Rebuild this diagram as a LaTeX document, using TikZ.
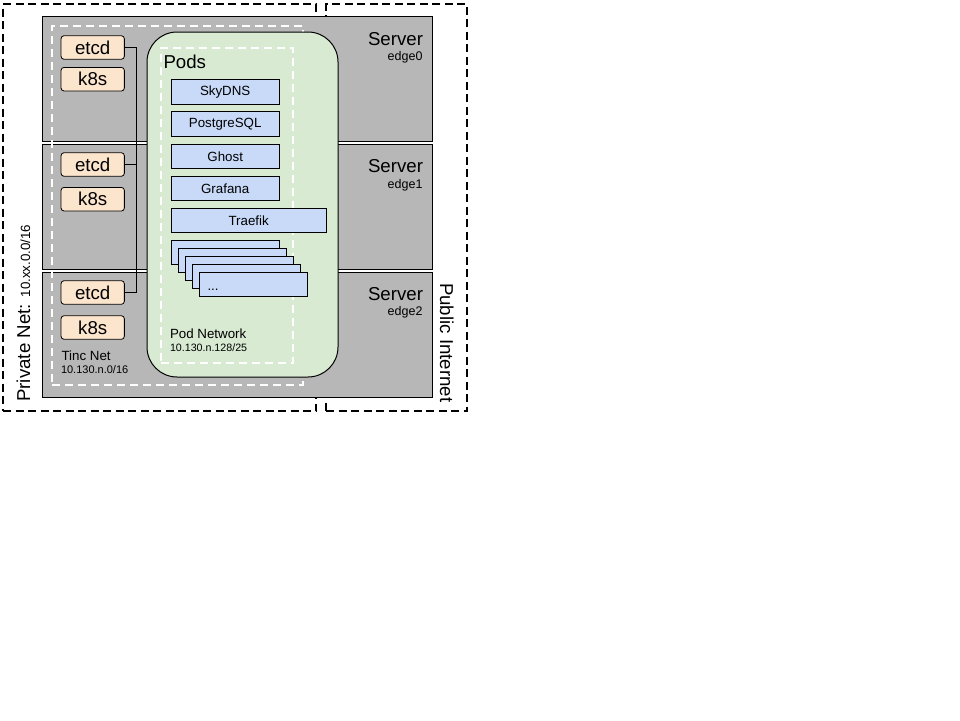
\documentclass[tikz,border=0pt]{standalone}
\usepackage{fontspec}
\setmainfont{Liberation Sans}
\definecolor{srvgray}{HTML}{B7B7B7}
\definecolor{podgreen}{HTML}{D9EAD3}
\definecolor{svcblue}{HTML}{C9DAF8}
\definecolor{peach}{HTML}{FCE5CD}
\newcommand{\fsbig}{\fontsize{18.67}{22}\selectfont}
\newcommand{\fsmid}{\fontsize{13.33}{16}\selectfont}
\newcommand{\fssmall}{\fontsize{11}{13}\selectfont}
\newcommand{\fstiny}{\fontsize{10.67}{12}\selectfont}
\begin{document}
\begin{tikzpicture}[x=1pt,y=-1pt,
  box/.style={rectangle,inner sep=0pt,outer sep=0pt,anchor=north west},
  netbox/.style={box,draw=black,line width=1.4pt,dash pattern=on 8pt off 4.5pt},
  server/.style={box,draw=black,fill=srvgray,line width=1pt,minimum width=390pt,minimum height=125pt},
  whitedash/.style={box,draw=white,line width=1.6pt,dash pattern=on 8pt off 5pt},
  podsbox/.style={box,draw=black,fill=podgreen,line width=1pt,rounded corners=30pt,minimum width=191pt,minimum height=345pt},
  compbox/.style={rectangle,draw=black,fill=peach,line width=0.8pt,rounded corners=3pt,minimum width=63.3pt,minimum height=23.6pt,inner sep=0pt,font=\fsbig},
  svc/.style={rectangle,draw=black,fill=svcblue,line width=1pt,minimum height=24.5pt,inner sep=0pt,font=\fsmid},
  stk/.style={box,draw=black,fill=svcblue,line width=1pt,minimum width=108pt,minimum height=24.3pt},
  lbl/.style={inner sep=0pt,outer sep=0pt}
]
\useasboundingbox (0,0) rectangle (960,720);
% network boundaries
\node[netbox,minimum width=313pt,minimum height=407pt] (priv) at (3,4) {};
\node[netbox,minimum width=141pt,minimum height=407pt] (pub) at (326,4) {};
% servers
\node[server] (s0) at (42,16) {};
\node[server] (s1) at (42,144) {};
\node[server] (s2) at (42,272) {};
% server labels
\node[lbl,anchor=base east,font=\fsbig] (sv0) at (423,45) {Server};
\node[lbl,anchor=base east,font=\fontsize{12.5}{14}\selectfont] (e0) at (422.5,60.5) {edge0};
\node[lbl,anchor=base east,font=\fsbig] (sv1) at (423,172.8) {Server};
\node[lbl,anchor=base east,font=\fontsize{12.5}{14}\selectfont] (e1) at (422.5,188.3) {edge1};
\node[lbl,anchor=base east,font=\fsbig] (sv2) at (423,300.5) {Server};
\node[lbl,anchor=base east,font=\fontsize{12.5}{14}\selectfont] (e2) at (422.5,315.5) {edge2};
% tinc net
\node[whitedash,minimum width=251pt,minimum height=359pt] (tinc) at (52,26) {};
% pods
\node[podsbox] (pods) at (147,32) {};
\node[whitedash,minimum width=132pt,minimum height=315pt] (podnet) at (161,48) {};
\node[lbl,anchor=base west,font=\fsbig] (podslbl) at (163.5,68.3) {Pods};
% services
\node[svc,minimum width=108.3pt] (skydns) at (225.2,91.8) {SkyDNS};
\node[svc,minimum width=108.3pt] (pg) at (225.2,123.8) {PostgreSQL};
\node[svc,minimum width=108.3pt] (ghost) at (225.2,156.3) {Ghost};
\node[svc,minimum width=108.3pt] (grafana) at (225.2,188.3) {Grafana};
\node[svc,minimum width=155.3pt,minimum height=24pt] (traefik) at (248.7,220.3) {Traefik};
\node[stk] (st0) at (171,240.3) {};
\node[stk] (st1) at (178,248.3) {};
\node[stk] (st2) at (185,256.3) {};
\node[stk] (st3) at (192,264.3) {};
\node[stk] (st4) at (199,272.3) {};
\node[lbl,anchor=base west,font=\fsmid] (dots) at (207.5,290) {...};
\node[lbl,anchor=base west,font=\fsmid] (pnl) at (170,338.3) {Pod Network};
\node[lbl,anchor=base west,font=\fstiny] (pnip) at (170,351) {10.130.n.128/25};
\node[lbl,anchor=base west,font=\fsmid] (tnl) at (61.5,360.7) {Tinc Net};
\node[lbl,anchor=base west,font=\fssmall] (tnip) at (61,373.3) {10.130.n.0/16};
% etcd / k8s
\node[compbox] (etcd0) at (92.7,47.5) {etcd};
\node[compbox] (k8s0) at (92.7,79.2) {k8s};
\node[compbox] (etcd1) at (92.7,164.5) {etcd};
\node[compbox] (k8s1) at (92.7,199.2) {k8s};
\node[compbox] (etcd2) at (92.7,292.5) {etcd};
\node[compbox] (k8s2) at (92.7,327.5) {k8s};
\coordinate (bus) at (136.7,0);
\draw[line width=1pt] (etcd0.east) -- (etcd0.east -| bus) -- (etcd2.east -| bus) -- (etcd2.east);
\draw[line width=1pt] (etcd1.east) -- (etcd1.east -| bus);
% rotated labels
\node[lbl,anchor=base west,rotate=90] (privlbl) at (30,401.7) {\fsbig Private Net: \fsmid 10.xx.0.0/16};
\node[lbl,anchor=base west,rotate=-90] (publbl) at (440,283) {\fsbig Public Internet};
\end{tikzpicture}
\end{document}
